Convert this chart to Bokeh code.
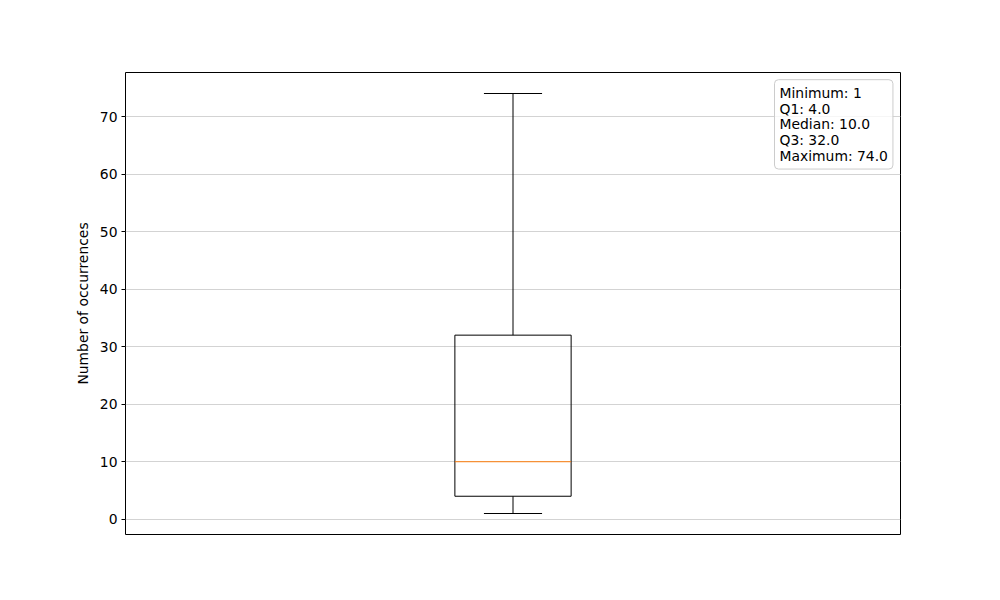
from bokeh.plotting import figure
from bokeh.models import Range1d, FixedTicker, Label
from bokeh.embed import file_html
from bokeh.resources import INLINE

# Data (box-plot statistics)
positions = [1.0]
minimum = [1]
q1 = [4.0]
median = [10.0]
q3 = [32.0]
maximum = [74.0]
y_ticks = [0, 10, 20, 30, 40, 50, 60, 70]
y_label = "Number of occurrences"

box_w = 0.15
cap_w = box_w / 2

FONT = "DejaVu Sans"
FS = "13.9px"

p = figure(width=1000, height=600, output_backend="svg", toolbar_location=None,
           x_range=Range1d(0.5, 1.5), y_range=Range1d(-2.65, 77.65),
           min_border_left=125, min_border_right=100, min_border_top=72, min_border_bottom=66)
p.outline_line_color = "black"
p.outline_line_width = 1
p.background_fill_color = "white"
p.border_fill_color = "white"

p.xaxis.visible = False
p.xgrid.visible = False
p.ygrid.ticker = FixedTicker(ticks=y_ticks)
p.ygrid.grid_line_color = "#d3d3d3"
p.ygrid.grid_line_width = 1

ax = p.yaxis[0]
ax.ticker = FixedTicker(ticks=y_ticks)
ax.axis_line_color = None
ax.major_tick_in = 0
ax.major_tick_out = 4
ax.minor_tick_line_color = None
ax.major_tick_line_color = "black"
ax.major_label_text_font = FONT
ax.major_label_text_font_size = FS
ax.major_label_text_color = "black"
ax.major_label_standoff = 4
ax.axis_label = y_label
ax.axis_label_text_font = FONT
ax.axis_label_text_font_size = FS
ax.axis_label_text_font_style = "normal"
ax.axis_label_text_color = "black"
ax.axis_label_standoff = 6

left = [x - box_w / 2 for x in positions]
right = [x + box_w / 2 for x in positions]
cl = [x - cap_w / 2 for x in positions]
cr = [x + cap_w / 2 for x in positions]

# whiskers
p.segment(x0=positions, y0=minimum, x1=positions, y1=q1, line_color="black", line_width=1)
p.segment(x0=positions, y0=q3, x1=positions, y1=maximum, line_color="black", line_width=1)
# caps
p.segment(x0=cl, y0=minimum, x1=cr, y1=minimum, line_color="black", line_width=1)
p.segment(x0=cl, y0=maximum, x1=cr, y1=maximum, line_color="black", line_width=1)
# box
p.quad(left=left, right=right, bottom=q1, top=q3, fill_color=None, line_color="black", line_width=1)
# median
p.segment(x0=left, y0=median, x1=right, y1=median, line_color="#ff7f0e", line_width=1)

txt = (f"Minimum: {minimum[0]}\nQ1: {q1[0]}\nMedian: {median[0]}\n"
       f"Q3: {q3[0]}\nMaximum: {maximum[0]}")
lab = Label(x=1.3374, y=76.4, text=txt, text_font=FONT, text_font_size=FS,
            text_align="left", text_baseline="top", text_line_height=0.99,
            text_color="black",
            border_line_color="#cccccc", border_line_width=1,
            background_fill_color="white", background_fill_alpha=0.8,
            padding=5, border_radius=4)
p.add_layout(lab)

open("out.html", "w").write(file_html(p, INLINE))
